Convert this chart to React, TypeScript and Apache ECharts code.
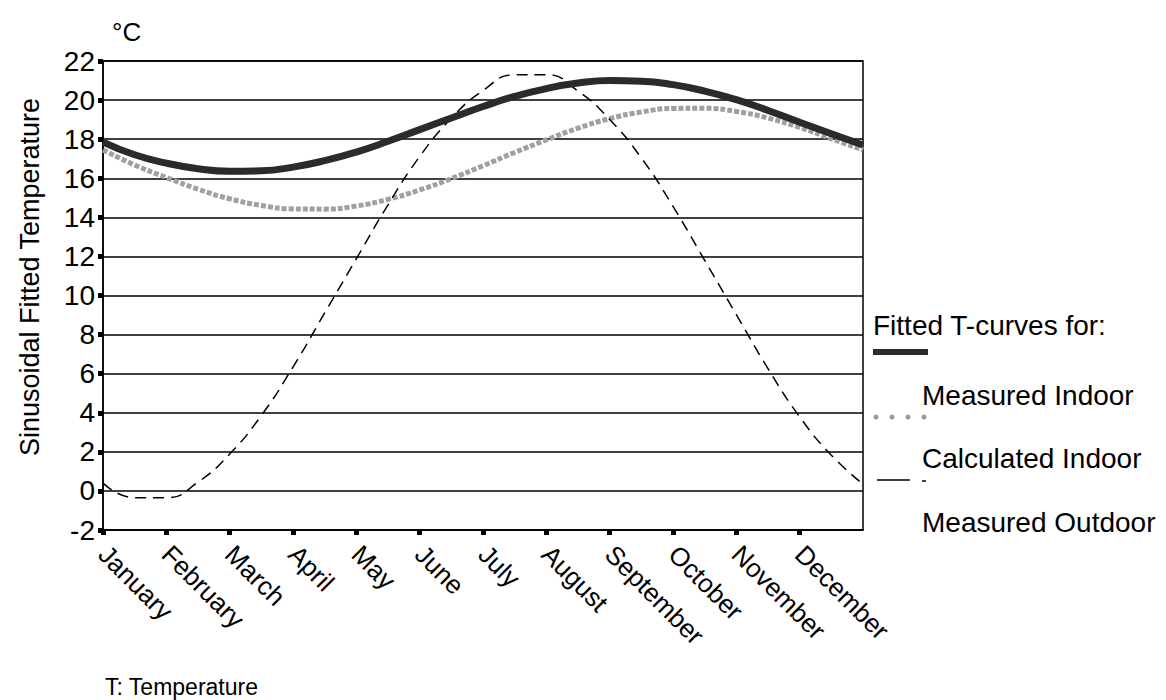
import React, { useEffect, useRef } from "react";
import * as echarts from "echarts";

const months = [
  "January", "February", "March", "April", "May", "June",
  "July", "August", "September", "October", "November", "December",
];
const monthTicks = [0, 1, 2, 3, 4, 5, 6, 7, 8, 9, 10, 11];
const xPoints = [
  0, 0.5, 1, 1.5, 2, 2.5, 3, 3.5, 4, 4.5, 5, 5.5, 6,
  6.5, 7, 7.5, 8, 8.5, 9, 9.5, 10, 10.5, 11, 11.5, 12,
];
const measuredIndoor = [
  17.85, 17.2, 16.77, 16.49, 16.36, 16.38, 16.57, 16.9, 17.34, 17.89, 18.49, 19.08, 19.67,
  20.19, 20.59, 20.87, 21.0, 20.97, 20.79, 20.46, 20.02, 19.47, 18.87, 18.28, 17.7,
];
const calculatedIndoor = [
  17.45, 16.68, 16.04, 15.44, 14.95, 14.61, 14.43, 14.42, 14.58, 14.92, 15.4, 15.98, 16.64,
  17.32, 17.96, 18.56, 19.05, 19.39, 19.57, 19.58, 19.42, 19.08, 18.6, 18.02, 17.45,
];
const measuredOutdoor = [
  0.4, -0.35, -0.35, 0.45, 1.89, 3.86, 6.34, 9.11, 11.88, 14.64, 17.11, 19.07, 20.49,
  21.3, 21.3, 20.46, 19.01, 17.04, 14.56, 11.8, 9.02, 6.26, 3.79, 1.83, 0.35,
];
const yTicks = { min: -2, max: 22, interval: 2 };

const FONT = "'Liberation Sans', Arial, Helvetica, sans-serif";

export default function App() {
  const ref = useRef<HTMLDivElement>(null);
  useEffect(() => {
    document.body.style.margin = "0";
    if (!ref.current) return;
    const chart = echarts.init(ref.current, undefined, { renderer: "svg" });
    const pair = (arr: number[]) => xPoints.map((x, i) => [x, arr[i]]);
    chart.setOption({
      animation: false,
      backgroundColor: "#ffffff",
      textStyle: { fontFamily: FONT },
      grid: {
        left: 103, top: 61, right: 303, bottom: 170,
        show: true, borderColor: "#000", borderWidth: 1.5, backgroundColor: "transparent",
      },
      xAxis: {
        type: "value", min: 0, max: 12, interval: 1,
        axisLine: { show: true, onZero: false, lineStyle: { color: "#000", width: 1.5 } },
        axisTick: {
          show: true, customValues: monthTicks, length: 5, inside: false,
          lineStyle: { color: "#000", width: 5 },
        },
        axisLabel: {
          customValues: monthTicks,
          formatter: (v: number) => months[Math.round(v)] ?? "",
          rotate: -45, fontSize: 26, color: "#000", margin: 20, fontFamily: FONT,
        },
        splitLine: { show: false },
      },
      yAxis: {
        type: "value", min: yTicks.min, max: yTicks.max, interval: yTicks.interval,
        axisLine: { show: true, lineStyle: { color: "#000", width: 1.5 } },
        axisTick: { show: true, length: 5, lineStyle: { color: "#000", width: 5 } },
        axisLabel: { fontSize: 28, color: "#000", margin: 8, fontFamily: FONT },
        splitLine: { show: true, lineStyle: { color: "#000", width: 1.5 } },
      },
      series: [
        {
          name: "Measured Outdoor", type: "line", smooth: true, showSymbol: false,
          data: pair(measuredOutdoor),
          lineStyle: { color: "#000", width: 1.5, type: [11, 7] }, z: 3,
        },
        {
          name: "Calculated Indoor", type: "line", smooth: true, showSymbol: false,
          data: pair(calculatedIndoor),
          lineStyle: { color: "#a0a0a0", width: 5, type: [5, 2] }, z: 2,
        },
        {
          name: "Measured Indoor", type: "line", smooth: true, showSymbol: false,
          data: pair(measuredIndoor),
          lineStyle: { color: "#2b2b2b", width: 7 }, z: 4,
        },
      ],
      graphic: [
        { type: "text", x: 112, y: 32, style: { text: "°C", fontSize: 26, fill: "#000", verticalAlign: "middle", fontFamily: FONT } },
        {
          type: "text", x: 30, y: 277, rotation: Math.PI / 2,
          style: {
            text: "Sinusoidal Fitted Temperature", fontSize: 27, fill: "#000",
            align: "center", verticalAlign: "middle", fontFamily: FONT,
          },
        },
        { type: "text", x: 873, y: 325, style: { text: "Fitted T-curves for:", fontSize: 28, fill: "#000", verticalAlign: "middle", fontFamily: FONT } },
        { type: "line", shape: { x1: 873, y1: 352, x2: 928, y2: 352 }, style: { stroke: "#2b2b2b", lineWidth: 6 } },
        { type: "text", x: 922, y: 395, style: { text: "Measured Indoor", fontSize: 28, fill: "#000", verticalAlign: "middle", fontFamily: FONT } },
        { type: "circle", shape: { cx: 876, cy: 417, r: 2.5 }, style: { fill: "#999" } },
        { type: "circle", shape: { cx: 892, cy: 417, r: 2.5 }, style: { fill: "#999" } },
        { type: "circle", shape: { cx: 908, cy: 417, r: 2.5 }, style: { fill: "#999" } },
        { type: "circle", shape: { cx: 924, cy: 417, r: 2.5 }, style: { fill: "#999" } },
        { type: "text", x: 922, y: 458, style: { text: "Calculated Indoor", fontSize: 28, fill: "#000", verticalAlign: "middle", fontFamily: FONT } },
        { type: "line", shape: { x1: 877, y1: 480, x2: 910, y2: 480 }, style: { stroke: "#000", lineWidth: 1.5 } },
        { type: "line", shape: { x1: 922, y1: 481, x2: 926, y2: 481 }, style: { stroke: "#000", lineWidth: 1.5 } },
        { type: "text", x: 922, y: 522, style: { text: "Measured Outdoor", fontSize: 28, fill: "#000", verticalAlign: "middle", fontFamily: FONT } },
        { type: "text", x: 105, y: 687, style: { text: "T: Temperature", fontSize: 23, fill: "#000", verticalAlign: "middle", fontFamily: FONT } },
      ],
    });
    return () => chart.dispose();
  }, []);
  return <div ref={ref} style={{ width: 1166, height: 700 }} />;
}
